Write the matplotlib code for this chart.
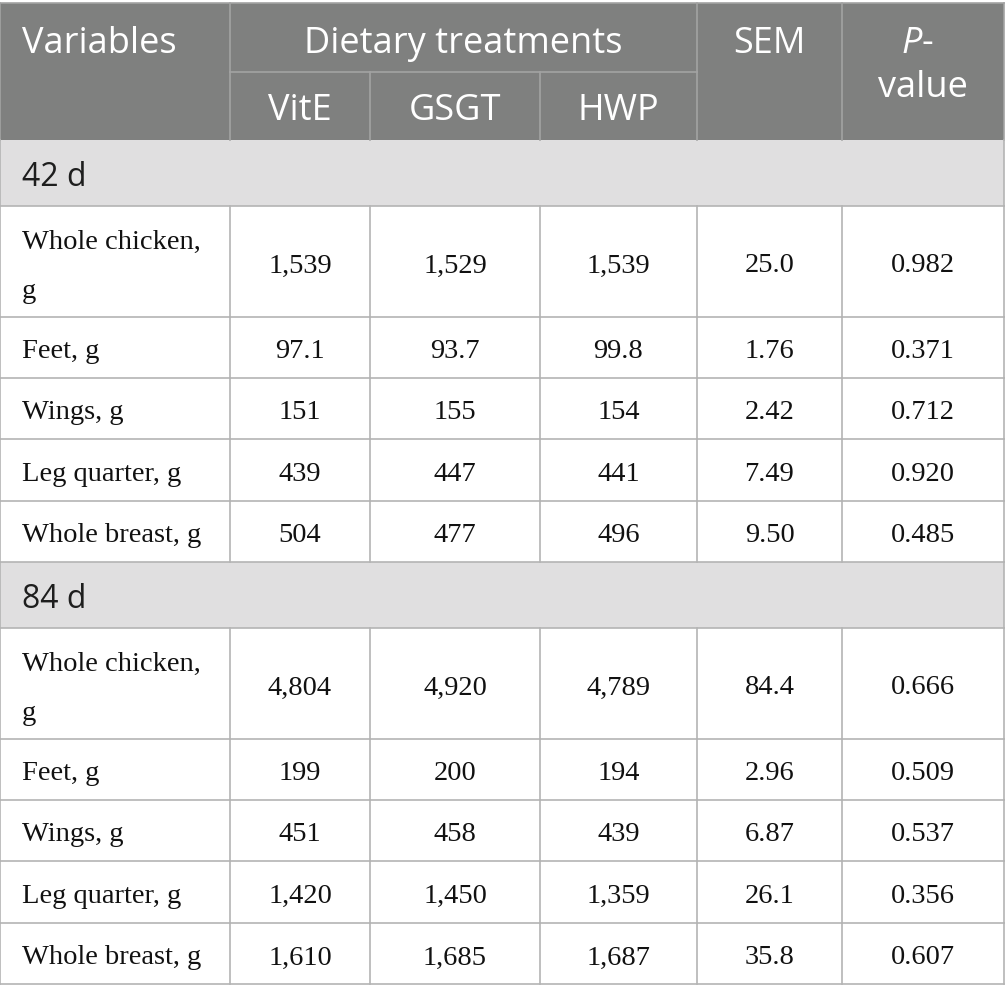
import matplotlib as mpl
mpl.use('Agg')
import matplotlib.pyplot as plt
from matplotlib.patches import Rectangle

# table content
sections = ['42 d', '84 d']
variables = ['Whole chicken,\ng', 'Feet, g', 'Wings, g', 'Leg quarter, g', 'Whole breast, g']
treatments = ['VitE', 'GSGT', 'HWP']

vite = [['1,539', '97.1', '151', '439', '504'],
        ['4,804', '199', '451', '1,420', '1,610']]
gsgt = [['1,529', '93.7', '155', '447', '477'],
        ['4,920', '200', '458', '1,450', '1,685']]
hwp = [['1,539', '99.8', '154', '441', '496'],
       ['4,789', '194', '439', '1,359', '1,687']]
sem = [['25.0', '1.76', '2.42', '7.49', '9.50'],
       ['84.4', '2.96', '6.87', '26.1', '35.8']]
pval = [['0.982', '0.371', '0.712', '0.920', '0.485'],
        ['0.666', '0.509', '0.537', '0.356', '0.607']]

# layout (pixels)
W, H = 1005, 1004
col_edges = [0, 230, 370, 540, 697, 842, 1004]
head_top, head_mid, head_bot = 4, 73, 141
sec_h = 66
row_h = [111, 61, 61, 62, 61]

head_bg = '#7f807f'
sec_bg = '#e0dfe0'
line_c = '#b4b4b4'
head_line = '#a3a3a3'

sans = 'Open Sans'
serif = 'Liberation Serif'

mpl.rcParams['mathtext.fontset'] = 'custom'
mpl.rcParams['mathtext.it'] = 'Open Sans:italic'

fig = plt.figure(figsize=(W / 100, H / 100), dpi=100)
ax = fig.add_axes([0, 0, 1, 1])
ax.set_xlim(0, W)
ax.set_ylim(H, 0)
ax.axis('off')

x0, x1 = col_edges[0], col_edges[-1]

# header block
ax.add_patch(Rectangle((x0, head_top), x1 - x0, head_bot - head_top,
                       facecolor=head_bg, edgecolor='none', zorder=0))
ax.plot([x0, x1], [head_top, head_top], color=head_line, lw=1.2, zorder=2)
ax.plot([col_edges[1], col_edges[4]], [head_mid, head_mid], color=head_line, lw=1.2, zorder=2)
for i, x in enumerate(col_edges):
    if i in (2, 3):
        ax.plot([x, x], [head_mid, head_bot], color=head_line, lw=1.2, zorder=2)
    else:
        ax.plot([x, x], [head_top, head_bot], color=head_line, lw=1.2, zorder=2)

hs = 26
ax.text(22, 53, 'Variables', fontsize=hs, family=sans, color='white', va='baseline', ha='left')
ax.text((col_edges[1] + col_edges[4]) / 2, 53, 'Dietary treatments', fontsize=hs,
        family=sans, color='white', va='baseline', ha='center')
for j, t in enumerate(treatments):
    ax.text((col_edges[j + 1] + col_edges[j + 2]) / 2, 120, t, fontsize=hs, family=sans,
            color='white', va='baseline', ha='center')
ax.text((col_edges[4] + col_edges[5]) / 2, 53, 'SEM', fontsize=hs, family=sans,
        color='white', va='baseline', ha='center')
pc = (col_edges[5] + col_edges[6]) / 2
ax.text(pc - 6, 53, r'$\mathit{P}$-', fontsize=hs, family=sans, color='white', va='baseline', ha='center')
ax.text(pc, 97, 'value', fontsize=hs, family=sans, color='white', va='baseline', ha='center')

# body
y = head_bot
bs = 20.5
for s, sec in enumerate(sections):
    ax.add_patch(Rectangle((x0, y), x1 - x0, sec_h, facecolor=sec_bg, edgecolor='none', zorder=0))
    ax.text(22, y + sec_h / 2 + 12, sec, fontsize=23, family=sans, color='#1e1e1e',
            va='baseline', ha='left')
    ax.plot([x0, x1], [y + sec_h, y + sec_h], color=line_c, lw=1.2, zorder=2)
    ax.plot([x0, x0], [y, y + sec_h], color=line_c, lw=1.2, zorder=2)
    ax.plot([x1, x1], [y, y + sec_h], color=line_c, lw=1.2, zorder=2)
    y += sec_h
    cols = [vite[s], gsgt[s], hwp[s], sem[s], pval[s]]
    for r, var in enumerate(variables):
        h = row_h[r]
        mid = y + h / 2
        lines = var.split('\n')
        if len(lines) == 1:
            ax.text(22, mid + 10, var, fontsize=bs, family=serif, color='#111111',
                    va='baseline', ha='left')
        else:
            for k, ln in enumerate(lines):
                ax.text(22, y + 42 + 49 * k, ln, fontsize=bs, family=serif, color='#111111',
                        va='baseline', ha='left')
        for c, vals in enumerate(cols):
            ax.text((col_edges[c + 1] + col_edges[c + 2]) / 2, mid + 10, vals[r], fontsize=bs,
                    family=serif, color='#111111', va='baseline', ha='center')
        for x in col_edges:
            ax.plot([x, x], [y, y + h], color=line_c, lw=1.2, zorder=2)
        ax.plot([x0, x1], [y + h, y + h], color=line_c, lw=1.2, zorder=2)
        y += h

plt.savefig('out.png', dpi=100, facecolor='white')
